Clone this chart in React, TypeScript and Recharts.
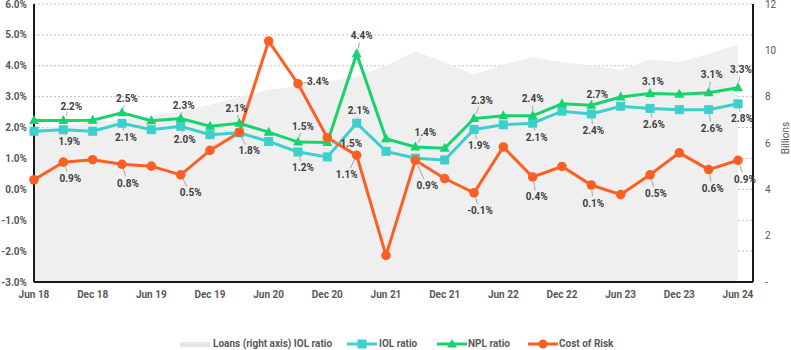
import React from 'react';
import { ComposedChart, Area, Line, XAxis, YAxis, CartesianGrid, Legend, LabelList } from 'recharts';

const quarters = ['Jun 18', 'Sep 18', 'Dec 18', 'Mar 19', 'Jun 19', 'Sep 19', 'Dec 19', 'Mar 20', 'Jun 20', 'Sep 20', 'Dec 20', 'Mar 21', 'Jun 21', 'Sep 21', 'Dec 21', 'Mar 22', 'Jun 22', 'Sep 22', 'Dec 22', 'Mar 23', 'Jun 23', 'Sep 23', 'Dec 23', 'Mar 24', 'Jun 24'];
const loans = [6.6, 6.75, 6.9, 7.0, 7.2, 7.35, 7.65, 8.0, 8.3, 8.45, 8.65, 8.85, 9.35, 9.95, 9.5, 8.95, 9.4, 9.7, 9.5, 9.35, 9.15, 9.6, 9.5, 9.85, 10.25];
const iolRatio = [1.88, 1.93, 1.88, 2.14, 1.93, 2.04, 1.77, 1.83, 1.55, 1.21, 1.05, 2.14, 1.23, 1.01, 0.95, 1.94, 2.09, 2.14, 2.53, 2.44, 2.69, 2.62, 2.58, 2.58, 2.77];
const nplRatio = [2.23, 2.23, 2.24, 2.48, 2.22, 2.29, 2.04, 2.14, 1.85, 1.53, 1.52, 4.39, 1.64, 1.37, 1.33, 2.29, 2.38, 2.38, 2.77, 2.72, 2.99, 3.1, 3.08, 3.13, 3.29];
const costOfRisk = [0.31, 0.88, 0.96, 0.81, 0.75, 0.47, 1.26, 1.85, 4.8, 3.42, 1.67, 1.1, -2.14, 0.94, 0.35, -0.11, 1.37, 0.4, 0.74, 0.14, -0.17, 0.47, 1.18, 0.64, 0.94];
const leftTicks = [-3, -2, -1, 0, 1, 2, 3, 4, 5, 6];
const rightTicks = [0, 2, 4, 6, 8, 10, 12];
const seriesNames = ['Loans (right axis) IOL ratio', 'IOL ratio', 'NPL ratio', 'Cost of Risk'];

const data = quarters.map((q, i) => ({
  q,
  loans: loans[i],
  iol: iolRatio[i],
  npl: nplRatio[i],
  cor: costOfRisk[i],
}));

const FONT = "Roboto, 'Liberation Sans', sans-serif";
const FS = 10;
const AXIS_TEXT = '#595959';
const LABEL_TEXT = '#404040';
const C_AREA = '#EFEFEF';
const C_IOL = '#3CCFCB';
const C_NPL = '#17D36E';
const C_COR = '#FC5F24';

// label placement (offset of text centre from the point), style only
const nplLabelPos: Record<number, [number, number]> = { 1: [8, -14], 3: [5, -14], 5: [3, -13], 7: [-3, -15], 9: [5, -16], 10: [24, 1], 11: [5, -18], 13: [10, -15], 15: [8, -18], 17: [0, -17], 19: [6, -11], 21: [3, -12], 23: [3, -18], 24: [3, -18] };
const iolLabelPos: Record<number, [number, number]> = { 1: [6, 12], 3: [4, 14], 5: [4, 13], 7: [10, 18], 9: [5, 16], 11: [2, -13], 15: [5, 16], 17: [4, 14], 19: [2, 17], 21: [4, 16], 23: [3, 19], 24: [4, 15] };
const corLabelPos: Record<number, [number, number]> = { 1: [7, 16], 3: [6, 19], 5: [10, 18], 9: [20, -2], 11: [-10, 19], 13: [12, 25], 15: [6, 18], 17: [4, 20], 19: [2, 18], 21: [6, 19], 23: [4, 19], 24: [7, 19] };

const makeLabel = (pos: Record<number, [number, number]>) => (props: any) => {
  const { x, y, value, index } = props;
  const p = pos[index];
  if (!p || x == null || y == null) return null;
  const [dx, dy] = p;
  const tx = x + dx;
  const ty = y + dy;
  const len = Math.sqrt(dx * dx + dy * dy);
  const ux = dx / len;
  const uy = dy / len;
  const showLeader = len > 11;
  return (
    <g key={`lbl-${index}`}>
      {showLeader && (
        <line x1={x + ux * 5} y1={y + uy * 5} x2={tx - ux * 8} y2={ty - uy * 7} stroke="#A6A6A6" strokeWidth={1} />
      )}
      <text x={tx} y={ty} textAnchor="middle" dominantBaseline="central" fill={LABEL_TEXT} fontSize={FS} fontWeight="bold" fontFamily={FONT}>
        {`${Number(value).toFixed(1)}%`}
      </text>
    </g>
  );
};

const SquareDot = (props: any) => {
  const { cx, cy, index } = props;
  if (cx == null || cy == null) return <g key={`sq-${index}`} />;
  return <rect key={`sq-${index}`} x={cx - 4.5} y={cy - 4.5} width={9} height={9} fill={C_IOL} />;
};
const TriangleDot = (props: any) => {
  const { cx, cy, index } = props;
  if (cx == null || cy == null) return <g key={`tr-${index}`} />;
  return <path key={`tr-${index}`} d={`M${cx},${cy - 5.5} L${cx + 5},${cy + 3.5} L${cx - 5},${cy + 3.5} Z`} fill={C_NPL} />;
};
const CircleDot = (props: any) => {
  const { cx, cy, index } = props;
  if (cx == null || cy == null) return <g key={`ci-${index}`} />;
  return <circle key={`ci-${index}`} cx={cx} cy={cy} r={4.8} fill={C_COR} />;
};

const LegendContent = () => {
  const textStyle: React.CSSProperties = { position: 'absolute', top: 3, fontFamily: FONT, fontSize: FS, fontWeight: 'bold', color: AXIS_TEXT, whiteSpace: 'nowrap', lineHeight: '14px' };
  const lineSample = (left: number, color: string, marker: React.ReactNode) => (
    <svg style={{ position: 'absolute', left, top: 3 }} width={30} height={14}>
      <line x1={0} y1={7} x2={30} y2={7} stroke={color} strokeWidth={3} />
      {marker}
    </svg>
  );
  return (
    <div style={{ position: 'relative', width: 791, height: 20 }}>
      <div style={{ position: 'absolute', left: 180, top: 8, width: 30, height: 5, background: '#E6E6E6' }} />
      <span style={{ ...textStyle, left: 213 }}>{seriesNames[0]}</span>
      {lineSample(347, C_IOL, <rect x={10.5} y={2.5} width={9} height={9} fill={C_IOL} />)}
      <span style={{ ...textStyle, left: 379 }}>{seriesNames[1]}</span>
      {lineSample(437, C_NPL, <path d="M15,2 L20,10.5 L10,10.5 Z" fill={C_NPL} />)}
      <span style={{ ...textStyle, left: 468 }}>{seriesNames[2]}</span>
      {lineSample(528, C_COR, <circle cx={15} cy={7} r={4.5} fill={C_COR} />)}
      <span style={{ ...textStyle, left: 559 }}>{seriesNames[3]}</span>
    </div>
  );
};

const BillionsLabel = (props: any) => {
  const vb = props.viewBox || {};
  const x = (vb.x ?? 753) + (vb.width ?? 38) - 6;
  const y = (vb.y ?? 4) + (vb.height ?? 278) / 2 - 5;
  return (
    <text x={x} y={y} transform={`rotate(-90, ${x}, ${y})`} textAnchor="middle" dominantBaseline="central" fill={AXIS_TEXT} fontSize={FS} fontFamily={FONT}>
      Billions
    </text>
  );
};

const tickStyle = { fill: AXIS_TEXT, fontSize: FS, fontFamily: FONT, fontWeight: 'bold' as const };

export default function App() {
  return (
    <div style={{ position: 'absolute', left: 0, top: 0, width: 791, height: 350, background: '#fff' }}>
      <ComposedChart width={791} height={350} data={data} margin={{ top: 4, right: 0, bottom: 0, left: 0 }}>
        <CartesianGrid yAxisId="left" vertical={false} stroke="#BFBFBF" strokeDasharray="2 2" />
        <XAxis
          dataKey="q"
          scale="point"
          padding={{ left: 0, right: 15 }}
          interval={1}
          tickLine={false}
          tickSize={0}
          tickMargin={9}
          height={48}
          axisLine={{ stroke: '#1A1A1A', strokeWidth: 2 }}
          tick={tickStyle}
        />
        <YAxis
          yAxisId="left"
          domain={[-3, 6]}
          ticks={leftTicks}
          width={34}
          tickLine={false}
          tickSize={0}
          tickMargin={7}
          tickFormatter={(v: number) => `${v.toFixed(1)}%`}
          axisLine={{ stroke: '#1A1A1A', strokeWidth: 2 }}
          tick={tickStyle}
          interval={0}
        />
        <YAxis
          yAxisId="right"
          orientation="right"
          domain={[0, 12]}
          ticks={rightTicks}
          width={38}
          tickLine={false}
          tickSize={0}
          tickMargin={12}
          tickFormatter={(v: number) => (v === 0 ? '-' : `${v}`)}
          axisLine={{ stroke: '#1A1A1A', strokeWidth: 2 }}
          tick={{ ...tickStyle, fontWeight: 'normal' as const, textAnchor: 'start' }}
          interval={0}
          label={BillionsLabel}
        />
        <Legend verticalAlign="bottom" height={20} wrapperStyle={{ left: 0, top: 334, width: 791, height: 20 }} content={LegendContent} />
        <Area yAxisId="right" dataKey="loans" name={seriesNames[0]} type="linear" fill={C_AREA} fillOpacity={1} stroke="none" isAnimationActive={false} dot={false} activeDot={false} />
        <Line yAxisId="left" dataKey="iol" name={seriesNames[1]} type="linear" stroke={C_IOL} strokeWidth={3} dot={SquareDot} activeDot={false} isAnimationActive={false}>
          <LabelList dataKey="iol" content={makeLabel(iolLabelPos)} />
        </Line>
        <Line yAxisId="left" dataKey="npl" name={seriesNames[2]} type="linear" stroke={C_NPL} strokeWidth={3} dot={TriangleDot} activeDot={false} isAnimationActive={false}>
          <LabelList dataKey="npl" content={makeLabel(nplLabelPos)} />
        </Line>
        <Line yAxisId="left" dataKey="cor" name={seriesNames[3]} type="linear" stroke={C_COR} strokeWidth={3} dot={CircleDot} activeDot={false} isAnimationActive={false}>
          <LabelList dataKey="cor" content={makeLabel(corLabelPos)} />
        </Line>
      </ComposedChart>
    </div>
  );
}
